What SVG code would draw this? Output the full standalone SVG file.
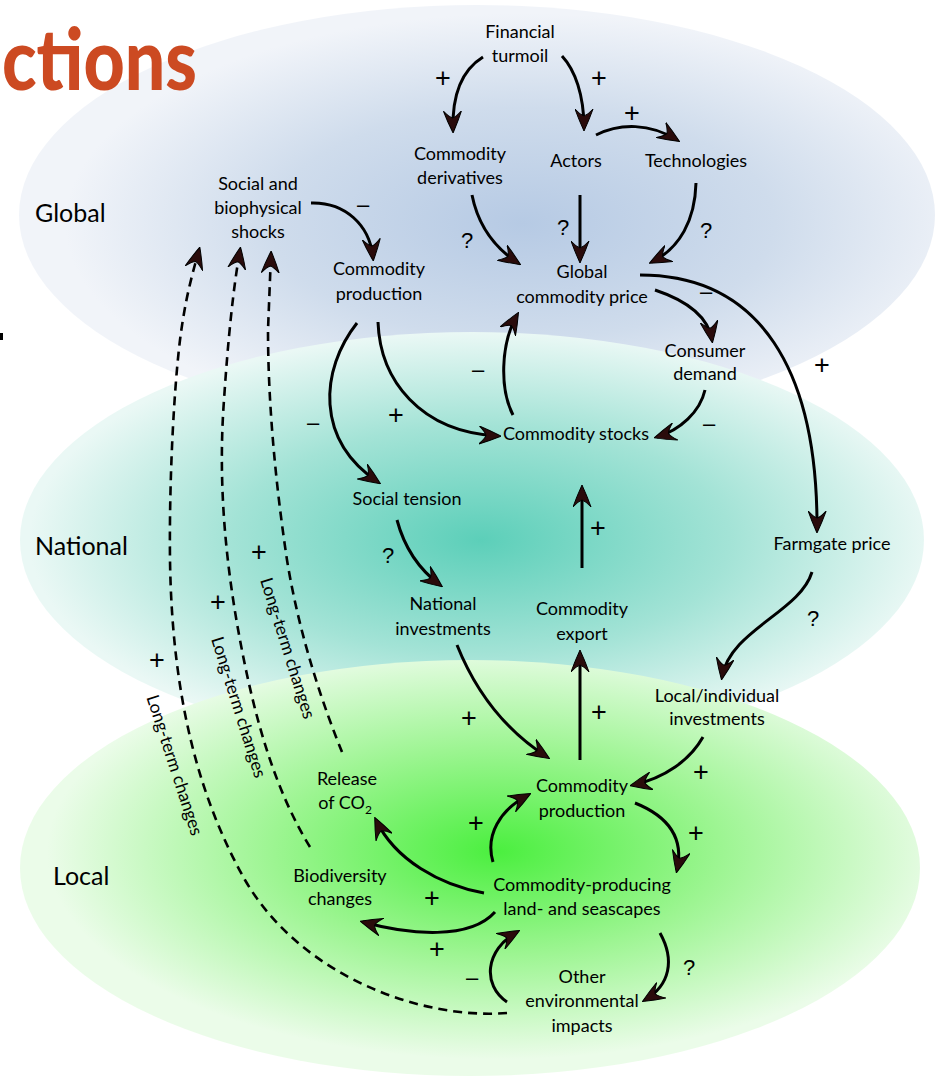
<svg xmlns="http://www.w3.org/2000/svg" width="935" height="1076" viewBox="0 0 935 1076">
  <defs>
    <radialGradient id="gGlobal" cx="0.55" cy="0.52" r="0.5">
      <stop offset="0" stop-color="#b6cae4"/>
      <stop offset="0.55" stop-color="#cfdcec"/>
      <stop offset="1" stop-color="#f1f4f9"/>
    </radialGradient>
    <radialGradient id="gNational" cx="0.51" cy="0.5" r="0.5">
      <stop offset="0" stop-color="#5ccfb9"/>
      <stop offset="0.55" stop-color="#a3e3d6"/>
      <stop offset="1" stop-color="#eaf8f5"/>
    </radialGradient>
    <radialGradient id="gLocal" cx="0.53" cy="0.46" r="0.5">
      <stop offset="0" stop-color="#4bef3f"/>
      <stop offset="0.5" stop-color="#9df592"/>
      <stop offset="1" stop-color="#ebfce9"/>
    </radialGradient>
    <marker id="ah" viewBox="0 0 22 19" refX="19" refY="9.5" markerWidth="22" markerHeight="19" markerUnits="userSpaceOnUse" orient="auto">
      <path d="M22,9.5 Q10,4 0,0.5 Q6,6 7,9.5 Q6,13 0,18.5 Q10,15 22,9.5 Z" fill="#2a0b0b" stroke="#000" stroke-width="1"/>
    </marker>
    <style>
      text { font-family: Lato, "Liberation Sans", sans-serif; fill: #000; }
      .n { font-size: 18px; text-anchor: middle; }
      .lvl { font-size: 25px; }
      .s { font-family: "Liberation Sans", Arial, sans-serif; font-size: 22px; text-anchor: middle; }
      .p { font-family: "Liberation Sans", Arial, sans-serif; font-size: 27px; text-anchor: middle; }
      .lt { font-size: 17.5px; text-anchor: middle; }
      .title { font-size: 86px; font-weight: 900; fill: #cc4a22; }
      .c { fill: none; stroke: #000; stroke-width: 3; marker-end: url(#ah); }
      .d { fill: none; stroke: #000; stroke-width: 2.6; stroke-dasharray: 9 6; marker-end: url(#ah); }
    </style>
  </defs>

  <!-- scale layers -->
  <g id="layers">
    <ellipse cx="477" cy="215" rx="458" ry="210" fill="url(#gGlobal)"/>
    <ellipse cx="472" cy="540" rx="452" ry="208" fill="url(#gNational)"/>
    <ellipse cx="470" cy="868" rx="450" ry="208" fill="url(#gLocal)"/>
  </g>

  <text class="title" x="2" y="90" textLength="195" lengthAdjust="spacingAndGlyphs">ctions</text>
  <rect x="0" y="333" width="3" height="7" fill="#000"/>

  <text class="lvl" x="35" y="222">Global</text>
  <text class="lvl" x="35" y="555">National</text>
  <text class="lvl" x="53" y="885">Local</text>

  <!-- connectors -->
  <g id="connectors">
    <path class="c" d="M483,57 C462,70 452,95 453,130"/>
    <path class="c" d="M562,56 C575,70 584,95 584,128"/>
    <path class="c" d="M596,135 C620,123 650,123 677,140"/>
    <path class="c" d="M472,195 C478,225 495,248 518,263"/>
    <path class="c" d="M580,195 L580,260"/>
    <path class="c" d="M696,183 C695,220 680,248 652,262"/>
    <path class="c" d="M311,203 C345,202 370,225 373,258"/>
    <path class="c" d="M640,275 C760,275 818,370 817,530"/>
    <path class="c" d="M655,290 C685,300 708,315 712,340"/>
    <path class="c" d="M513,415 C500,390 500,345 517,315"/>
    <path class="c" d="M705,390 C700,412 680,430 657,437"/>
    <path class="c" d="M378,322 C380,380 420,432 498,436"/>
    <path class="c" d="M357,323 C320,370 315,440 378,482"/>
    <path class="c" d="M397,520 C405,550 420,570 440,585"/>
    <path class="c" d="M582,568 L582,488"/>
    <path class="c" d="M812,572 C800,612 730,630 722,677"/>
    <path class="c" d="M457,645 C475,690 505,730 547,757"/>
    <path class="c" d="M580,760 L580,653"/>
    <path class="c" d="M703,737 C690,760 665,778 633,785"/>
    <path class="c" d="M635,803 C665,815 685,835 677,870"/>
    <path class="c" d="M493,862 C485,835 500,810 528,795"/>
    <path class="c" d="M484,893 C440,885 395,860 376,820"/>
    <path class="c" d="M495,912 C470,940 410,935 363,922"/>
    <path class="c" d="M507,1002 C482,985 485,950 517,932"/>
    <path class="c" d="M660,933 C675,960 670,985 645,1000"/>
    <path class="d" d="M342,752 C325,710 300,640 287,560 C275,480 268,400 268,330 L271,254"/>
    <path class="d" d="M310,847 C275,790 255,720 240,640 C225,560 218,480 224,400 C228,340 233,290 240,250"/>
    <path class="d" d="M507,1013 C420,1020 300,975 245,880 C200,800 172,700 170,560 C169,470 175,380 180,340 C185,300 192,275 199,250"/>
  </g>

  <!-- connector signs -->
  <g id="signs">
    <text class="p" x="443" y="87">+</text>
    <text class="p" x="599" y="87">+</text>
    <text class="p" x="632" y="122">+</text>
    <text class="s" x="467" y="248">?</text>
    <text class="s" x="563" y="235">?</text>
    <text class="s" x="706" y="238">?</text>
    <text class="s" x="363" y="212">–</text>
    <text class="s" x="706" y="299">–</text>
    <text class="p" x="822" y="374">+</text>
    <text class="s" x="478" y="377">–</text>
    <text class="s" x="709" y="431">–</text>
    <text class="p" x="396" y="424">+</text>
    <text class="s" x="313" y="430">–</text>
    <text class="s" x="388" y="563">?</text>
    <text class="p" x="598" y="537">+</text>
    <text class="s" x="813" y="626">?</text>
    <text class="p" x="469" y="727">+</text>
    <text class="p" x="599" y="721">+</text>
    <text class="p" x="701" y="781">+</text>
    <text class="p" x="476" y="832">+</text>
    <text class="p" x="696" y="842">+</text>
    <text class="p" x="432" y="907">+</text>
    <text class="p" x="437" y="958">+</text>
    <text class="s" x="472" y="985">–</text>
    <text class="s" x="689" y="975">?</text>
    <text class="p" x="259" y="561">+</text>
    <text class="p" x="218" y="611">+</text>
    <text class="p" x="157" y="669">+</text>
  </g>

  <g id="long-term-labels">
    <text class="lt" transform="translate(282,650) rotate(72.5)">Long-term changes</text>
    <text class="lt" transform="translate(233,709) rotate(72.5)">Long-term changes</text>
    <text class="lt" transform="translate(169,767) rotate(72)">Long-term changes</text>
  </g>

  <!-- nodes -->
  <g id="financial-turmoil"><text class="n" x="520" y="38">Financial</text><text class="n" x="520" y="62">turmoil</text></g>
  <g id="commodity-derivatives"><text class="n" x="460" y="160">Commodity</text><text class="n" x="460" y="184">derivatives</text></g>
  <g id="actors"><text class="n" x="576" y="167">Actors</text></g>
  <g id="technologies"><text class="n" x="696" y="167">Technologies</text></g>
  <g id="global-commodity-price"><text class="n" x="582" y="278">Global</text><text class="n" x="582" y="303">commodity price</text></g>
  <g id="shocks"><text class="n" x="258" y="190">Social and</text><text class="n" x="258" y="214">biophysical</text><text class="n" x="258" y="238">shocks</text></g>
  <g id="commodity-production-global"><text class="n" x="379" y="275">Commodity</text><text class="n" x="379" y="300">production</text></g>
  <g id="consumer-demand"><text class="n" x="705" y="357">Consumer</text><text class="n" x="705" y="380">demand</text></g>
  <g id="commodity-stocks"><text class="n" x="576" y="440">Commodity stocks</text></g>
  <g id="social-tension"><text class="n" x="407" y="505">Social tension</text></g>
  <g id="national-investments"><text class="n" x="443" y="610">National</text><text class="n" x="443" y="635">investments</text></g>
  <g id="commodity-export"><text class="n" x="582" y="615">Commodity</text><text class="n" x="582" y="640">export</text></g>
  <g id="farmgate-price"><text class="n" x="832" y="550">Farmgate price</text></g>
  <g id="local-investments"><text class="n" x="717" y="702">Local/individual</text><text class="n" x="717" y="725">investments</text></g>
  <g id="commodity-production-local"><text class="n" x="582" y="792">Commodity</text><text class="n" x="582" y="817">production</text></g>
  <g id="landscapes"><text class="n" x="582" y="891">Commodity-producing</text><text class="n" x="582" y="915">land- and seascapes</text></g>
  <g id="other-impacts"><text class="n" x="582" y="983">Other</text><text class="n" x="582" y="1007">environmental</text><text class="n" x="582" y="1032">impacts</text></g>
  <g id="release-co2"><text class="n" x="347" y="785">Release</text><text class="n" x="345" y="809">of CO<tspan font-size="12" dy="5">2</tspan></text></g>
  <g id="biodiversity"><text class="n" x="340" y="882">Biodiversity</text><text class="n" x="340" y="905">changes</text></g>
</svg>
